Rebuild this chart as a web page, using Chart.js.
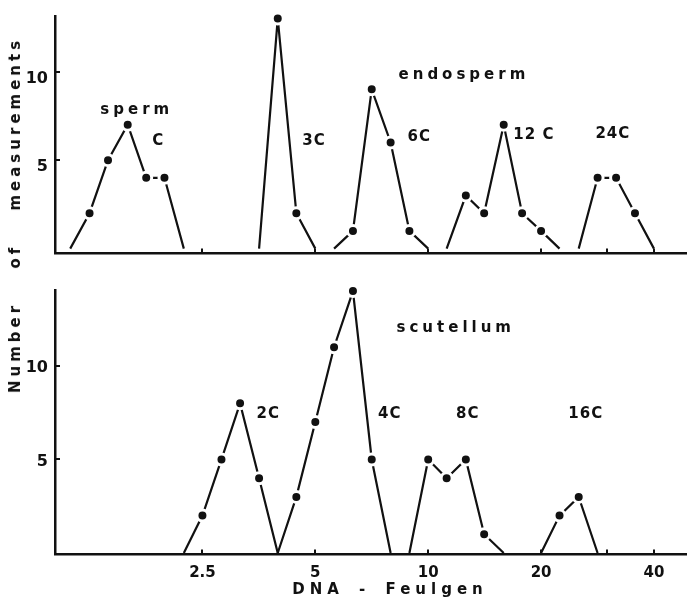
<!DOCTYPE html>
<html>
<head>
<meta charset="utf-8">
<script src="https://cdn.jsdelivr.net/npm/chart.js@4.4.1/dist/chart.umd.min.js"></script>
<style>
  body { margin: 0; background: #fff; }
  #wrap { position: relative; width: 695px; height: 600px; font-family: "DejaVu Sans", sans-serif; color: #111; }
  .panel { position: absolute; left: 0; width: 695px; }
  .ytitle {
    position: absolute; left: 15px; top: 215px;
    transform: translate(-50%, -50%) rotate(-90deg);
    white-space: nowrap; font-weight: bold; font-size: 15px;
    letter-spacing: 4px; word-spacing: 24px;
  }
  .xtitle {
    position: absolute; left: 390px; top: 589px;
    transform: translate(-50%, -50%);
    white-space: nowrap; font-weight: bold; font-size: 15px;
    letter-spacing: 5px; word-spacing: 5px;
  }
</style>
</head>
<body>
<div id="wrap">
  <div class="panel" style="top:0; height:270px;"><canvas id="endoChart"></canvas></div>
  <div class="panel" style="top:270px; height:330px;"><canvas id="scutChart"></canvas></div>
  <div class="ytitle">Number of measurements</div>
  <div class="xtitle">DNA - Feulgen</div>
</div>
<script>
// x = DNA-Feulgen amount (log axis), y = number of measurements

// endosperm panel
const spermDNA = [1.11, 1.25, 1.40, 1.58, 1.77, 1.98, 2.23];
const spermCount = [0, 2, 5, 7, 4, 4, 0];
const endo3cDNA = [3.54, 3.97, 4.45, 5.0];
const endo3cCount = [0, 13, 2, 0];
const endo6cDNA = [5.61, 6.30, 7.07, 7.94, 8.91, 10.0];
const endo6cCount = [0, 1, 9, 6, 1, 0];
const endo12cDNA = [11.2, 12.6, 14.1, 15.9, 17.8, 20.0, 22.4];
const endo12cCount = [0, 3, 2, 7, 2, 1, 0];
const endo24cDNA = [25.2, 28.3, 31.7, 35.6, 40.0];
const endo24cCount = [0, 4, 4, 2, 0];

// scutellum panel
const scut2cDNA = [2.23, 2.5, 2.81, 3.15, 3.54, 3.97];
const scut2cCount = [0, 2, 5, 8, 4, 0];
const scut4cDNA = [3.97, 4.45, 5.0, 5.61, 6.30, 7.07, 7.94];
const scut4cCount = [0, 3, 7, 11, 14, 5, 0];
const scut8cDNA = [8.91, 10.0, 11.2, 12.6, 14.1, 15.9];
const scut8cCount = [0, 5, 4, 5, 1, 0];
const scut16cDNA = [20.0, 22.4, 25.2, 28.3];
const scut16cCount = [0, 2, 3, 0];

// axis ticks
const xTickValues = [2.5, 5, 10, 20, 30, 40];
const xTickLabels = ["2.5", "5", "10", "20", "", "40"];
const yTickValues = [5, 10];
const yTickLabels = ["5", "10"];

// peak labels
const endoLabels = [
  { text: "sperm", x: 1.65, y: 7.8 },
  { text: "C", x: 1.9, y: 6.1 },
  { text: "3C", x: 4.9, y: 6.1 },
  { text: "endosperm", x: 12.3, y: 9.8 },
  { text: "6C", x: 9.35, y: 6.3 },
  { text: "12 C", x: 18.9, y: 6.4 },
  { text: "24C", x: 30.7, y: 6.45 }
];
const scutLabels = [
  { text: "scutellum", x: 11.7, y: 12.0 },
  { text: "2C", x: 3.7, y: 7.4 },
  { text: "4C", x: 7.8, y: 7.4 },
  { text: "8C", x: 12.6, y: 7.4 },
  { text: "16C", x: 26.0, y: 7.4 }
];

const INK = "#111";
const FONT = "DejaVu Sans";

function toPoints(xs, ys) {
  return xs.map((x, i) => ({ x: x, y: ys[i] }));
}

function series(xs, ys) {
  return {
    data: toPoints(xs, ys),
    borderColor: INK,
    borderWidth: 2.2,
    tension: 0,
    clip: false,
    // dots only on counted classes; white ring leaves the gap round each dot
    pointRadius: (ctx) => (ctx.raw && ctx.raw.y > 0 ? 5.5 : 0),
    pointBackgroundColor: INK,
    pointBorderColor: "#fff",
    pointBorderWidth: 3,
    pointHoverRadius: 0
  };
}

// tick marks drawn inward, plus the peak labels
const panelDecor = {
  id: "panelDecor",
  afterDatasetsDraw(chart, args, opts) {
    const { ctx, chartArea } = chart;
    const x = chart.scales.x;
    const y = chart.scales.y;
    ctx.save();
    ctx.strokeStyle = INK;
    ctx.lineWidth = 2;
    xTickValues.forEach((v) => {
      const px = Math.round(x.getPixelForValue(v));
      ctx.beginPath();
      ctx.moveTo(px, chartArea.bottom);
      ctx.lineTo(px, chartArea.bottom - 5);
      ctx.stroke();
    });
    yTickValues.forEach((v) => {
      const py = Math.round(y.getPixelForValue(v));
      ctx.beginPath();
      ctx.moveTo(chartArea.left, py);
      ctx.lineTo(chartArea.left + 5, py);
      ctx.stroke();
    });
    ctx.fillStyle = INK;
    ctx.font = "bold 15px '" + FONT + "'";
    ctx.textAlign = "center";
    ctx.textBaseline = "middle";
    opts.labels.forEach((l) => {
      // words are widely spaced, the ploidy marks less so
      ctx.letterSpacing = /\d/.test(l.text) ? "1px" : "4px";
      ctx.fillText(l.text, x.getPixelForValue(l.x) + 2, y.getPixelForValue(l.y));
    });
    ctx.restore();
  }
};

function makePanel(canvasId, datasets, cfg) {
  const ctx = document.getElementById(canvasId).getContext("2d");
  return new Chart(ctx, {
    type: "line",
    data: { datasets: datasets },
    plugins: [panelDecor],
    options: {
      responsive: true,
      maintainAspectRatio: false,
      animation: false,
      devicePixelRatio: 1,
      layout: { padding: { top: cfg.padTop, right: 9, left: 0, bottom: 0 } },
      scales: {
        x: {
          type: "logarithmic",
          min: 1.011,
          max: 48.7,
          grid: { display: false, drawTicks: false },
          border: { display: true, color: INK, width: 2.5 },
          afterBuildTicks: (axis) => {
            axis.ticks = xTickValues.map((v) => ({ value: v }));
          },
          afterFit: (axis) => {
            axis.height = cfg.xHeight;
          },
          ticks: {
            display: cfg.showXLabels,
            autoSkip: false,
            maxRotation: 0,
            padding: 10,
            color: INK,
            font: { family: FONT, size: 15, weight: "bold" },
            callback: (val) => {
              const i = xTickValues.indexOf(val);
              return i >= 0 ? xTickLabels[i] : "";
            }
          }
        },
        y: {
          type: "linear",
          min: cfg.yMin,
          max: cfg.yMax,
          grid: { display: false, drawTicks: false },
          border: { display: true, color: INK, width: 2.5 },
          afterBuildTicks: (axis) => {
            axis.ticks = yTickValues.map((v) => ({ value: v }));
          },
          afterFit: (axis) => {
            axis.width = 55;
          },
          ticks: {
            padding: 7,
            labelOffset: cfg.yLabelOffset,
            color: INK,
            font: { family: FONT, size: 16, weight: "bold" },
            callback: (val) => {
              const i = yTickValues.indexOf(val);
              return i >= 0 ? yTickLabels[i] : "";
            }
          }
        }
      },
      plugins: {
        legend: { display: false },
        tooltip: { enabled: false },
        panelDecor: { labels: cfg.labels }
      }
    }
  });
}

makePanel("endoChart", [
  series(spermDNA, spermCount),
  series(endo3cDNA, endo3cCount),
  series(endo6cDNA, endo6cCount),
  series(endo12cDNA, endo12cCount),
  series(endo24cDNA, endo24cCount)
], { padTop: 7, xHeight: 13.5, yMin: -0.27, yMax: 13.11, yLabelOffset: 7, showXLabels: false, labels: endoLabels });

makePanel("scutChart", [
  series(scut2cDNA, scut2cCount),
  series(scut4cDNA, scut4cCount),
  series(scut8cDNA, scut8cCount),
  series(scut16cDNA, scut16cCount)
], { padTop: 20, xHeight: 45.5, yMin: -0.08, yMax: 14.06, yLabelOffset: 2, showXLabels: true, labels: scutLabels });
</script>
</body>
</html>
